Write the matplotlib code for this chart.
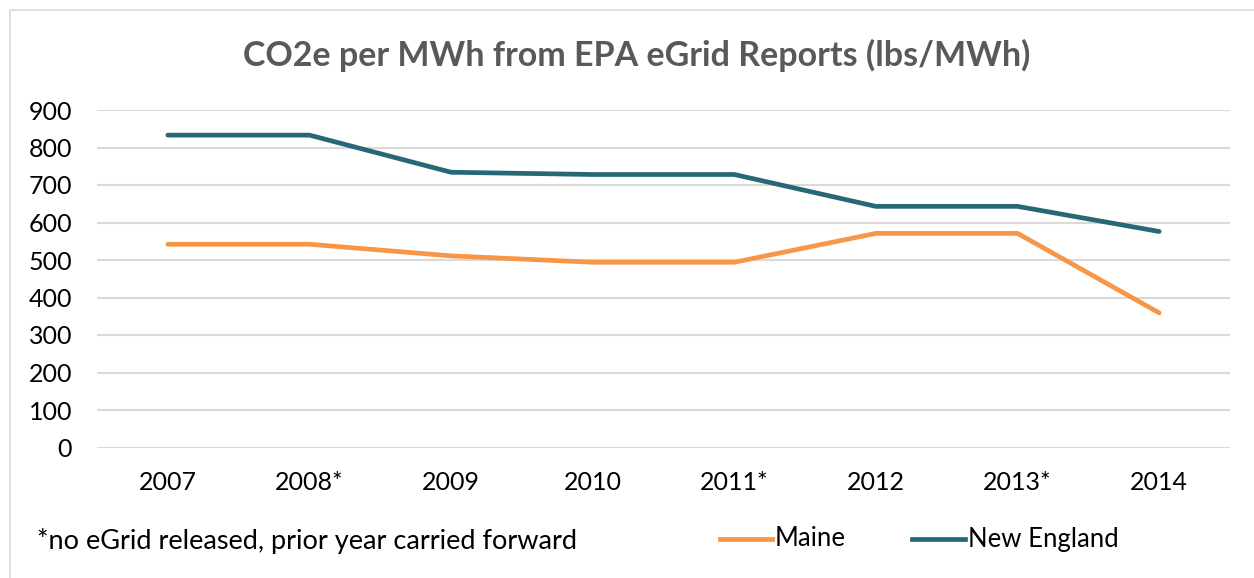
import numpy as np
import matplotlib.pyplot as plt
from matplotlib.patches import Rectangle
from matplotlib.lines import Line2D

years = ['2007', '2008*', '2009', '2010', '2011*', '2012', '2013*', '2014']
maine = [542, 542, 511, 494, 494, 571, 571, 359]
new_england = [833, 833, 734, 728, 728, 643, 643, 576]

orange = '#F79646'
teal = '#266878'

plt.rcParams['font.family'] = ['Lato', 'DejaVu Sans']

fig = plt.figure(figsize=(12.54, 5.78), dpi=100)
fig.patches.append(Rectangle((10 / 1254, -0.1), 1.2, 1 - 10 / 578 + 0.1,
                             transform=fig.transFigure, fill=False,
                             edgecolor='#D9D9D9', linewidth=1.2))

ax = fig.add_axes([97 / 1254, 1 - 447.5 / 578, (1230 - 97) / 1254, 337.5 / 578])
x = np.arange(len(years))
ax.plot(x, maine, color=orange, lw=3.4, solid_capstyle='round', solid_joinstyle='round', zorder=3)
ax.plot(x, new_england, color=teal, lw=3.4, solid_capstyle='round', solid_joinstyle='round', zorder=3)

ax.set_xlim(-0.5, len(years) - 0.5)
ax.set_ylim(0, 900)
ax.set_yticks(range(0, 901, 100))
ax.set_xticks(x)
ax.set_xticklabels(years)
ax.yaxis.grid(True, color='#D9D9D9', lw=1.5)
ax.set_axisbelow(True)
for s in ax.spines.values():
    s.set_visible(False)
ax.tick_params(length=0, labelsize=18, colors='black')
ax.tick_params(axis='x', pad=17)
ax.tick_params(axis='y', pad=18)

fig.text(637 / 1254, 1 - 55 / 578, 'CO2e per MWh from EPA eGrid Reports (lbs/MWh)',
         ha='center', va='center', fontsize=24.5, fontweight='bold', color='#595959')
fig.text(37 / 1254, 1 - 541 / 578, '*no eGrid released, prior year carried forward',
         ha='left', va='center', fontsize=19.5, color='black')

# legend drawn by hand to keep the reference spacing
ly = 1 - 539 / 578
for (x0, x1, tx), name, col in [((720, 772, 775), 'Maine', orange),
                                ((912, 965, 968), 'New England', teal)]:
    fig.add_artist(Line2D([x0 / 1254, x1 / 1254], [ly, ly], color=col, lw=3.4,
                          transform=fig.transFigure))
    fig.text(tx / 1254, ly, name, ha='left', va='center', fontsize=18.5, color='black')

fig.savefig('out.png', dpi=100)
